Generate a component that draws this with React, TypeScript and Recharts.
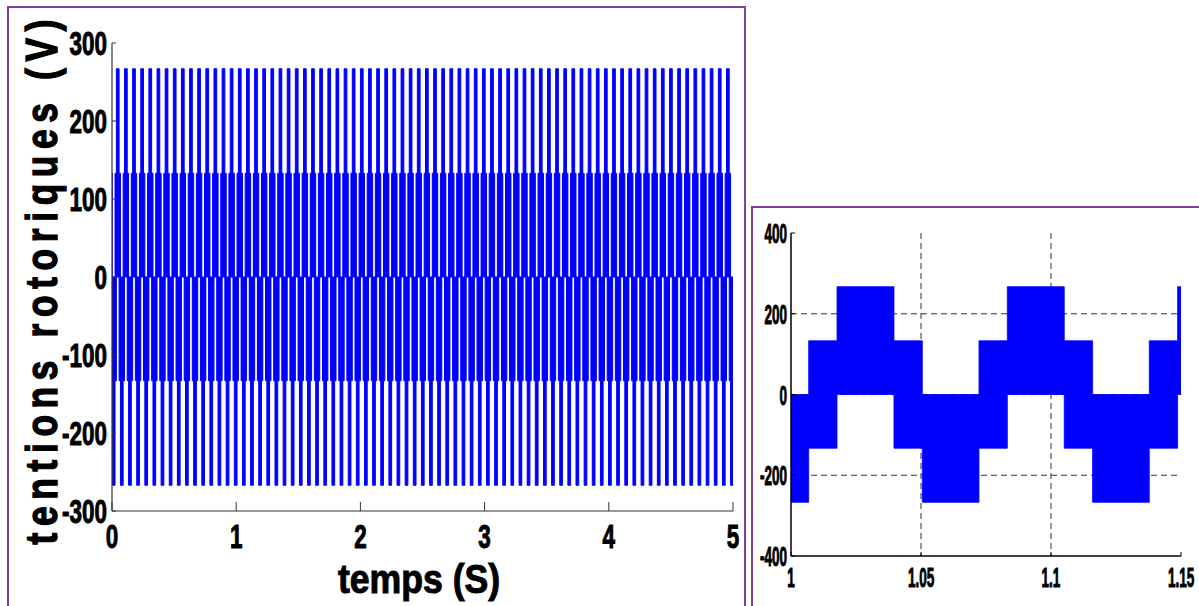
import React from 'react';
import { ComposedChart, Area, XAxis, YAxis, CartesianGrid } from 'recharts';

// main plot axes
const mainTimeTicks = [0, 1, 2, 3, 4, 5];
const mainVoltTicks = [-300, -200, -100, 0, 100, 200, 300];

// zoomed plot axes
const zoomTimeTicks = [1, 1.05, 1.1, 1.15];
const zoomVoltTicks = [-400, -200, 0, 200, 400];
const zoomGridTime = [1.05, 1.1];
const zoomGridVolt = [-200, 0, 200];

// one fundamental period of the switched rotor voltage.
// each segment: its duration (s) and the band the PWM switching fills (V)
const segDuration = [0.0219, 0.0109, 0.0218, 0.0109];
const segLow = [0, -133, -267, -133];
const segHigh = [267, 133, 0, 133];
const positiveBlockStart = 1.0177; // a positive block starts here (s)

type Row = { t: number; band: [number, number] };

// the signal is periodic: lay the measured period end to end over [from, to]
function buildBand(from: number, to: number): Row[] {
  const period = segDuration.reduce((a, b) => a + b, 0);
  let t = positiveBlockStart - Math.ceil((positiveBlockStart - from) / period) * period;
  let i = 0;
  const rows: Row[] = [];
  while (t < to) {
    const end = t + segDuration[i];
    if (end > from) rows.push({ t: Math.max(t, from), band: [segLow[i], segHigh[i]] });
    t = end;
    i = (i + 1) % segDuration.length;
  }
  rows.push({ t: to, band: rows[rows.length - 1].band });
  return rows;
}

const mainData = buildBand(0, 5);
const zoomData = buildBand(1, 1.15);

const FONT = 'Liberation Sans, Arial, sans-serif';
const PURPLE = '#7f40a0';
const BLUE = '#0000ff';

const label = (x: number, y: number, sx: number, size: number, anchor: string, txt: string) => (
  <text
    transform={`translate(${x},${y}) scale(${sx},1)`}
    textAnchor={anchor as any}
    fontFamily={FONT}
    fontWeight={700}
    fontSize={size}
    fill="#000"
    stroke="#000"
    strokeWidth={1}
  >
    {txt}
  </text>
);

// ticks point inward, MATLAB style
const mainBottomTick = (p: any) => (
  <g>
    <line x1={p.x} y1={p.y} x2={p.x} y2={p.y - 9} stroke="#333" />
    {label(p.x, p.y + 37, 0.66, 34, 'middle', String(p.payload.value))}
  </g>
);
const mainTopTick = (p: any) => <line x1={p.x} y1={p.y} x2={p.x} y2={p.y + 9} stroke="#333" />;
const mainLeftTick = (p: any) => (
  <g>
    <line x1={p.x} y1={p.y} x2={p.x + 4} y2={p.y} stroke="#333" />
    {label(p.x - 5, p.y + 12, 0.68, 33, 'end', String(p.payload.value))}
  </g>
);
const mainRightTick = (p: any) => <line x1={p.x} y1={p.y} x2={p.x - 4} y2={p.y} stroke="#333" />;

const zoomBottomTick = (p: any) => (
  <g>
    <line x1={p.x} y1={p.y} x2={p.x} y2={p.y - 4} stroke="#000" />
    {label(p.x, p.y + 31, 0.5, 27, 'middle', String(p.payload.value))}
  </g>
);
const zoomTopTick = (p: any) => <line x1={p.x} y1={p.y} x2={p.x} y2={p.y + 4} stroke="#000" />;
const zoomLeftTick = (p: any) => (
  <g>
    <line x1={p.x} y1={p.y} x2={p.x + 4} y2={p.y} stroke="#000" />
    {label(p.x - 4, p.y + 10, 0.5, 27, 'end', String(p.payload.value))}
  </g>
);
const zoomRightTick = (p: any) => <line x1={p.x} y1={p.y} x2={p.x - 4} y2={p.y} stroke="#000" />;

const App: React.FC = () => {
  return (
    <div style={{ position: 'absolute', left: 0, top: 0, width: 1199, height: 606, overflow: 'hidden', background: '#fff' }}>
      {/* frames around the two figures */}
      <div style={{ position: 'absolute', left: 7, top: 6, width: 735, height: 700, border: `2px solid ${PURPLE}` }} />
      <div style={{ position: 'absolute', left: 751, top: 206, width: 600, height: 500, border: `2px solid ${PURPLE}` }} />

      <div style={{ position: 'absolute', left: 0, top: 0 }}>
        <ComposedChart width={746} height={606} data={mainData} margin={{ top: 43, right: 13, bottom: 55, left: 52 }}>
          <XAxis dataKey="t" type="number" domain={[0, 5]} ticks={mainTimeTicks} allowDataOverflow interval={0}
            height={40} tickSize={0} tickMargin={0} tickLine={false} tick={mainBottomTick}
            axisLine={{ stroke: '#333', strokeWidth: 1.2 }} />
          <XAxis xAxisId="top" orientation="top" type="number" domain={[0, 5]} ticks={mainTimeTicks} allowDataOverflow
            interval={0} height={0} tickSize={0} tickMargin={0} tickLine={false} tick={mainTopTick}
            axisLine={{ stroke: '#333', strokeWidth: 1.2 }} />
          <YAxis type="number" domain={[-300, 300]} ticks={mainVoltTicks} allowDataOverflow interval={0}
            width={60} tickSize={0} tickMargin={0} tickLine={false} tick={mainLeftTick}
            axisLine={{ stroke: '#333', strokeWidth: 1.2 }} />
          <YAxis yAxisId="right" orientation="right" type="number" domain={[-300, 300]} ticks={mainVoltTicks}
            allowDataOverflow interval={0} width={0} tickSize={0} tickMargin={0} tickLine={false} tick={mainRightTick}
            axisLine={{ stroke: '#333', strokeWidth: 1.2 }} />
          <Area dataKey="band" type="stepAfter" stroke={BLUE} strokeWidth={1} fill={BLUE} fillOpacity={1}
            dot={false} activeDot={false} isAnimationActive={false} />
        </ComposedChart>
      </div>

      <svg width={746} height={606} style={{ position: 'absolute', left: 0, top: 0, pointerEvents: 'none' }}>
        <text transform="translate(57,282) rotate(-90) scale(0.8,1)" textAnchor="middle" fontFamily={FONT}
          fontWeight={700} fontSize={44} textLength={656} lengthAdjust="spacing" fill="#000" stroke="#000" strokeWidth={1.4}>
          tentions rotoriques (V)
        </text>
        <text transform="translate(419,593) scale(0.89,1)" textAnchor="middle" fontFamily={FONT}
          fontWeight={700} fontSize={40} fill="#000" stroke="#000" strokeWidth={1}>
          temps (S)
        </text>
      </svg>

      <div style={{ position: 'absolute', left: 752, top: 207 }}>
        <ComposedChart width={447} height={399} data={zoomData} margin={{ top: 26, right: 18, bottom: 10, left: 9 }}>
          <CartesianGrid stroke="#333" strokeDasharray="6 4" horizontalValues={zoomGridVolt} verticalValues={zoomGridTime} />
          <XAxis dataKey="t" type="number" domain={[1, 1.15]} ticks={zoomTimeTicks} allowDataOverflow interval={0}
            height={40} tickSize={0} tickMargin={0} tickLine={false} tick={zoomBottomTick}
            axisLine={{ stroke: '#000', strokeWidth: 1.5 }} />
          <XAxis xAxisId="top" orientation="top" type="number" domain={[1, 1.15]} ticks={zoomTimeTicks} allowDataOverflow
            interval={0} height={0} tickSize={0} tickMargin={0} tickLine={false} tick={zoomTopTick}
            axisLine={{ stroke: '#000', strokeWidth: 1.5 }} />
          <YAxis type="number" domain={[-400, 400]} ticks={zoomVoltTicks} allowDataOverflow interval={0}
            width={30} tickSize={0} tickMargin={0} tickLine={false} tick={zoomLeftTick}
            axisLine={{ stroke: '#000', strokeWidth: 1.5 }} />
          <YAxis yAxisId="right" orientation="right" type="number" domain={[-400, 400]} ticks={zoomVoltTicks}
            allowDataOverflow interval={0} width={0} tickSize={0} tickMargin={0} tickLine={false} tick={zoomRightTick}
            axisLine={{ stroke: '#000', strokeWidth: 1.5 }} />
          <Area dataKey="band" type="stepAfter" stroke={BLUE} strokeWidth={0.8} fill={BLUE} fillOpacity={1}
            dot={false} activeDot={false} isAnimationActive={false} />
        </ComposedChart>
      </div>
    </div>
  );
};

export default App;
